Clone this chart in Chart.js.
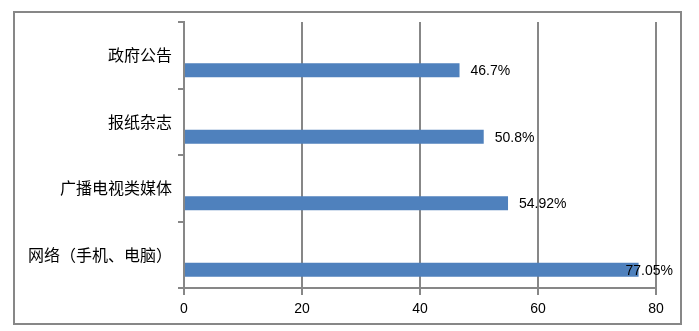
<!DOCTYPE html>
<html>
<head>
<meta charset="utf-8">
<script src="https://cdn.jsdelivr.net/npm/chart.js@4/dist/chart.umd.min.js"></script>
<style>
  html, body { margin: 0; padding: 0; background: #fff; }
  #wrap { width: 699px; height: 331px; }
</style>
</head>
<body>
<div id="wrap"><canvas id="mediaChart"></canvas></div>
<script>
// data
const categories = ["政府公告", "报纸杂志", "广播电视类媒体", "网络（手机、电脑）"];
const shares = [46.7, 50.8, 54.92, 77.05];
const xTicks = [0, 20, 40, 60, 80];

const gray = "#878787";

// outer frame of the whole chart
const frame = {
  id: "frame",
  beforeDraw(chart) {
    const ctx = chart.ctx;
    ctx.save();
    ctx.fillStyle = "#fff";
    ctx.fillRect(0, 0, chart.width, chart.height);
    ctx.strokeStyle = gray;
    ctx.lineWidth = 2;
    ctx.strokeRect(14, 12, 667, 312);
    ctx.restore();
  }
};

// "46.7%" style labels to the right of the bars
const valueLabels = {
  id: "valueLabels",
  afterDatasetsDraw(chart) {
    const ctx = chart.ctx;
    const meta = chart.getDatasetMeta(1);
    ctx.save();
    ctx.font = '14px "Liberation Sans", Arial, sans-serif';
    ctx.fillStyle = "#000";
    ctx.textBaseline = "middle";
    meta.data.forEach((bar, i) => {
      const text = shares[i] + "%";
      const w = ctx.measureText(text).width;
      const x = Math.min(bar.x + 11, chart.width - 26 - w);
      ctx.fillText(text, x, bar.y + 1);
    });
    ctx.restore();
  }
};

let canvasElement = document.getElementById("mediaChart");
let config = {
  type: "bar",
  data: {
    labels: categories,
    datasets: [
      {
        // empty series, keeps the bars in the lower half of each band
        label: "",
        data: categories.map(() => null),
        backgroundColor: "rgba(0,0,0,0)",
      },
      {
        label: "比例",
        data: shares,
        backgroundColor: "#4F81BD",
        borderWidth: 0,
      },
    ],
  },
  options: {
    indexAxis: "y",
    responsive: true,
    maintainAspectRatio: false,
    animation: false,
    categoryPercentage: 0.9,
    barPercentage: 0.47,
    layout: { padding: { left: 0, top: 22, right: 43, bottom: 0 } },
    plugins: {
      legend: { display: false },
      tooltip: { enabled: false },
    },
    scales: {
      x: {
        min: 0,
        max: 80,
        afterBuildTicks(scale) {
          scale.ticks = xTicks.map((v) => ({ value: v }));
        },
        afterFit(scale) {
          scale.height = 43;
        },
        grid: {
          color: gray,
          lineWidth: 2,
          tickLength: 7,
          drawOnChartArea: true,
        },
        border: { color: gray, width: 2 },
        ticks: {
          color: "#000",
          padding: 6,
          font: { family: '"Liberation Sans", Arial, sans-serif', size: 14 },
        },
      },
      y: {
        afterFit(scale) {
          scale.width = 184;
        },
        grid: {
          offset: true,
          color: gray,
          lineWidth: 2,
          tickLength: 6,
          drawOnChartArea: false,
        },
        border: { color: gray, width: 2 },
        ticks: {
          color: "#000",
          padding: 6,
          font: { family: '"Noto Sans CJK SC", sans-serif', size: 16 },
        },
      },
    },
  },
  plugins: [frame, valueLabels],
};
let mediaChart = new Chart(canvasElement, config);
</script>
</body>
</html>
